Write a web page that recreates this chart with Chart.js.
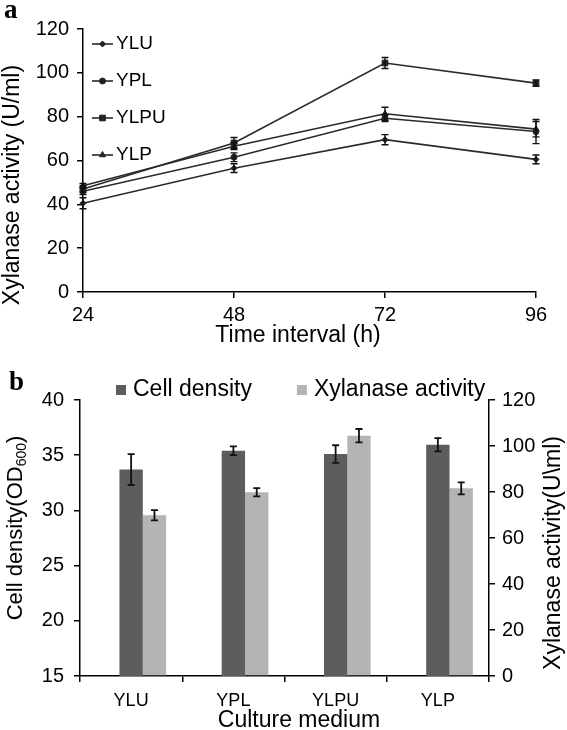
<!DOCTYPE html>
<html><head><meta charset="utf-8">
<script src="https://cdn.jsdelivr.net/npm/chart.js@4.4.1/dist/chart.umd.min.js"></script>
<style>
html,body{margin:0;padding:0;background:#fff;width:567px;height:730px;overflow:hidden}
#ca{position:absolute;left:0;top:0}
#cb{position:absolute;left:0;top:350px}
</style></head><body>
<canvas id="ca" width="567" height="350"></canvas>
<canvas id="cb" width="567" height="380"></canvas>
<script>
// ---------- Data: panel a ----------
const hours = ['24', '48', '72', '96'];
const seriesNames = ['YLU', 'YPL', 'YLPU', 'YLP'];
const ylu  = [40.5, 56.5, 69.5, 60.5];
const ypl  = [46.0, 61.5, 79.3, 73.2];
const ylpu = [47.0, 68.0, 104.5, 95.3];
const ylp  = [48.5, 66.5, 81.3, 74.3];
const yluErr  = [2.5, 2.0, 2.3, 2.0];
const yplErr  = [1.5, 2.0, 1.5, 5.5];
const ylpuErr = [1.5, 2.5, 2.5, 1.5];
const ylpErr  = [1.0, 1.5, 3.0, 3.5];
const aYTicks = [0, 120, 20];   // min, max, step

// ---------- Data: panel b ----------
const media = ['YLU', 'YPL', 'YLPU', 'YLP'];
const barSeriesNames = ['Cell density', 'Xylanase activity'];
const cellDensity    = [33.7, 35.4, 35.1, 35.95];
const cellDensityErr = [1.4, 0.4, 0.8, 0.6];
const xylanase       = [69.9, 79.9, 104.5, 81.6];
const xylanaseErr    = [2.2, 1.8, 2.9, 2.6];
const bLeftTicks  = [15, 40, 5];
const bRightTicks = [0, 120, 20];

const FONT = "'Liberation Sans', Arial, sans-serif";
Chart.defaults.font.family = FONT;
Chart.defaults.color = '#000';

// ---------- plugins ----------
const errorBars = {
  id: 'errorBars',
  afterDatasetsDraw(chart, args, opts) {
    const ctx = chart.ctx;
    chart.data.datasets.forEach((ds, di) => {
      if (!ds.errors) return;
      const meta = chart.getDatasetMeta(di);
      const ys = chart.scales[meta.yAxisID];
      ctx.save();
      ctx.strokeStyle = opts.color || '#111';
      ctx.lineWidth = opts.width || 1.5;
      meta.data.forEach((el, i) => {
        const v = ds.data[i], e = ds.errors[i];
        if (v == null || !e) return;
        const x = el.x, y1 = ys.getPixelForValue(v + e), y2 = ys.getPixelForValue(v - e);
        const c = opts.cap || 3;
        ctx.beginPath();
        ctx.moveTo(x, y1); ctx.lineTo(x, y2);
        ctx.moveTo(x - c, y1); ctx.lineTo(x + c, y1);
        ctx.moveTo(x - c, y2); ctx.lineTo(x + c, y2);
        ctx.stroke();
      });
      ctx.restore();
    });
  }
};

const texts = {
  id: 'texts',
  afterDraw(chart, args, opts) {
    const ctx = chart.ctx;
    (opts.items || []).forEach(t => {
      ctx.save();
      ctx.fillStyle = '#000';
      ctx.translate(t.x, t.y);
      if (t.rotate) ctx.rotate(t.rotate);
      const fam = t.family || FONT;
      const w = t.bold ? 'bold ' : '';
      if (t.parts) {
        let total = 0;
        t.parts.forEach(p => { ctx.font = w + (p.size || t.size) + 'px ' + fam; p._w = ctx.measureText(p.text).width; total += p._w; });
        let x = -total / 2;
        ctx.textAlign = 'left';
        ctx.textBaseline = 'middle';
        t.parts.forEach(p => {
          ctx.font = w + (p.size || t.size) + 'px ' + fam;
          ctx.fillText(p.text, x, p.dy || 0);
          x += p._w;
        });
      } else {
        ctx.font = w + t.size + 'px ' + fam;
        ctx.textAlign = t.align || 'center';
        ctx.textBaseline = t.baseline || 'middle';
        ctx.fillText(t.text, 0, 0);
      }
      ctx.restore();
    });
  }
};

const lineLegend = {
  id: 'lineLegend',
  afterDraw(chart, args, opts) {
    const { ctx, chartArea } = chart;
    chart.data.datasets.forEach((ds, i) => {
      const y = chartArea.top + opts.top + i * opts.step;
      const x0 = chartArea.left + opts.left;
      ctx.save();
      ctx.strokeStyle = ds.borderColor; ctx.lineWidth = ds.borderWidth;
      ctx.beginPath(); ctx.moveTo(x0, y); ctx.lineTo(x0 + opts.len, y); ctx.stroke();
      ctx.fillStyle = ds.pointBackgroundColor; ctx.strokeStyle = ds.pointBorderColor; ctx.lineWidth = 1;
      Chart.helpers.drawPoint(ctx, { pointStyle: ds.pointStyle, radius: ds.pointRadius, rotation: 0, borderWidth: 1 }, x0 + opts.len / 2, y);
      ctx.font = opts.size + 'px ' + FONT; ctx.fillStyle = '#000';
      ctx.textBaseline = 'middle'; ctx.textAlign = 'left';
      ctx.fillText(ds.label, x0 + opts.len + opts.gap, y);
      ctx.restore();
    });
  }
};

const boxLegend = {
  id: 'boxLegend',
  afterDraw(chart, args, opts) {
    const { ctx, chartArea } = chart;
    let x = opts.left;
    const y = chartArea.top - opts.above;
    ctx.save();
    ctx.font = opts.size + 'px ' + FONT;
    ctx.textBaseline = 'middle'; ctx.textAlign = 'left';
    chart.data.datasets.forEach(ds => {
      if (!ds.label) return;
      ctx.fillStyle = ds.backgroundColor;
      ctx.fillRect(x, y - opts.box / 2, opts.box, opts.box);
      ctx.fillStyle = '#000';
      const tx = x + opts.box + opts.gap;
      ctx.fillText(ds.label, tx, y);
      x = tx + ctx.measureText(ds.label).width + opts.spacing;
    });
    ctx.restore();
  }
};

const axisCommon = {
  border: { display: true, color: '#000', width: 1.5 },
  grid: { display: true, drawOnChartArea: false, drawTicks: true, tickLength: 6, color: '#000', lineWidth: 1.5 }
};

// ---------- panel a ----------
const lineColor = '#2a2a2a';
function lineDs(label, data, errors, style, r) {
  return {
    label, data, errors,
    borderColor: lineColor, borderWidth: 1.6,
    pointStyle: style, pointRadius: r, pointHoverRadius: r,
    pointBackgroundColor: '#222', pointBorderColor: '#222', pointBorderWidth: 1,
    tension: 0, fill: false, clip: false
  };
}
new Chart(document.getElementById('ca'), {
  type: 'line',
  data: {
    labels: hours,
    datasets: [
      lineDs(seriesNames[0], ylu, yluErr, 'rectRot', 3),
      lineDs(seriesNames[1], ypl, yplErr, 'circle', 3),
      lineDs(seriesNames[2], ylpu, ylpuErr, 'rect', 4),
      lineDs(seriesNames[3], ylp, ylpErr, 'triangle', 3.5)
    ]
  },
  options: {
    responsive: false, animation: false, devicePixelRatio: 1,
    layout: { padding: { left: 0, top: 29, right: 31, bottom: 18 } },
    plugins: {
      legend: { display: false }, tooltip: { enabled: false },
      errorBars: { cap: 3.5, width: 1.4 },
      lineLegend: { top: 15, step: 37, left: 9, len: 21, gap: 3, size: 19 },
      texts: { items: [
        { text: 'a', x: 4, y: 18, size: 27, bold: true, align: 'left', baseline: 'alphabetic', family: "'Liberation Serif', 'Times New Roman', serif" },
        { text: 'Xylanase activity (U/ml)', x: 13, y: 185, size: 23, rotate: -Math.PI / 2 },
        { text: 'Time interval (h)', x: 298, y: 336, size: 23 }
      ] }
    },
    scales: {
      x: {
        ...axisCommon, offset: false,
        ticks: { font: { size: 20 }, padding: 5, maxRotation: 0 },
        afterFit: s => { s.height = 40; }
      },
      y: {
        ...axisCommon, min: aYTicks[0], max: aYTicks[1],
        ticks: { stepSize: aYTicks[2], font: { size: 20 }, padding: 8 },
        afterFit: s => { s.width = 83; }
      }
    }
  },
  plugins: [errorBars, lineLegend, texts]
});

// ---------- panel b ----------
new Chart(document.getElementById('cb'), {
  type: 'bar',
  data: {
    labels: media,
    datasets: [
      { label: '', data: media.map(() => null), yAxisID: 'y', backgroundColor: 'rgba(0,0,0,0)' },
      { label: barSeriesNames[0], data: cellDensity, errors: cellDensityErr, yAxisID: 'y', backgroundColor: '#5d5d5d', borderWidth: 0 },
      { label: barSeriesNames[1], data: xylanase, errors: xylanaseErr, yAxisID: 'y2', backgroundColor: '#b4b4b4', borderWidth: 0 }
    ]
  },
  options: {
    responsive: false, animation: false, devicePixelRatio: 1,
    categoryPercentage: 0.685, barPercentage: 1.0,
    layout: { padding: { left: 0, top: 50, right: 0, bottom: 0 } },
    plugins: {
      legend: { display: false }, tooltip: { enabled: false },
      errorBars: { cap: 3.5, width: 1.8 },
      boxLegend: { left: 116, above: 10, box: 10, gap: 7, spacing: 45, size: 23 },
      texts: { items: [
        { text: 'b', x: 9, y: 40, size: 27, bold: true, align: 'left', baseline: 'alphabetic', family: "'Liberation Serif', 'Times New Roman', serif" },
        { x: 16, y: 178, size: 22, rotate: -Math.PI / 2, parts: [
          { text: 'Cell density(OD' }, { text: '600', size: 14, dy: 6 }, { text: ')' } ] },
        { text: 'Xylanase activity(U\\ml)', x: 554, y: 203, size: 23, rotate: -Math.PI / 2 },
        { text: 'Culture medium', x: 299, y: 371, size: 23 }
      ] }
    },
    scales: {
      x: {
        ...axisCommon,
        grid: { ...axisCommon.grid, offset: true },
        ticks: { font: { size: 18 }, padding: 8, maxRotation: 0 },
        afterFit: s => { s.height = 54; }
      },
      y: {
        ...axisCommon, position: 'left', min: bLeftTicks[0], max: bLeftTicks[1],
        ticks: { stepSize: bLeftTicks[2], font: { size: 20 }, padding: 10 },
        afterFit: s => { s.width = 80; }
      },
      y2: {
        ...axisCommon, position: 'right', min: bRightTicks[0], max: bRightTicks[1],
        ticks: { stepSize: bRightTicks[2], font: { size: 20 }, padding: 7 },
        afterFit: s => { s.width = 78; }
      }
    }
  },
  plugins: [errorBars, boxLegend, texts]
});
</script>
</body></html>
